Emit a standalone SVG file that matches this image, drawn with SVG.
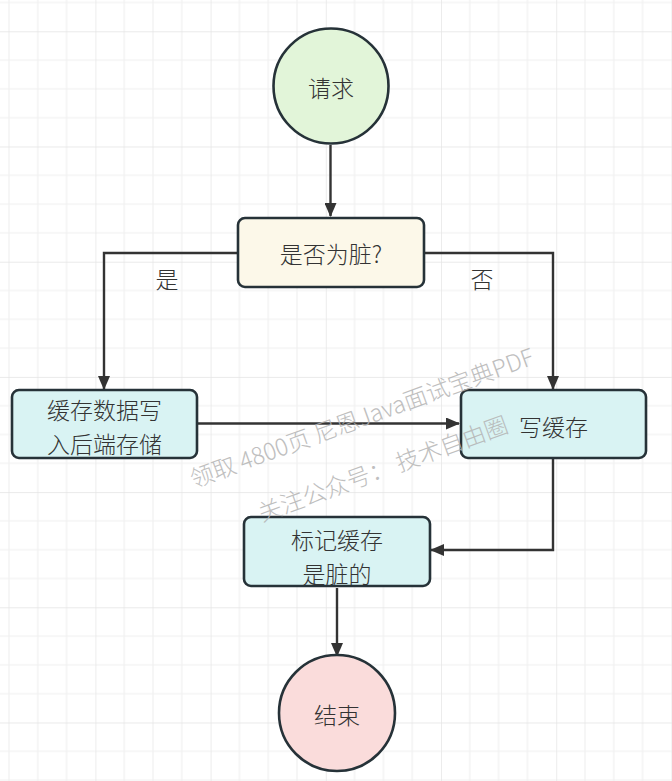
<svg xmlns="http://www.w3.org/2000/svg" width="672" height="781" viewBox="0 0 672 781">
<defs>
<pattern id="grid" x="-19.8" y="31.3" width="115.2" height="115.2" patternUnits="userSpaceOnUse">
<path d="M28.8 0V115.2M57.6 0V115.2M86.4 0V115.2M0 28.8H115.2M0 57.6H115.2M0 86.4H115.2" stroke="#f0f0f0" stroke-width="1.2" fill="none"/>
<path d="M0 0V115.2M0 0H115.2" stroke="#e4e4e4" stroke-width="1.4" fill="none"/>
</pattern>
<marker id="arr" viewBox="0 0 14 12" refX="13" refY="6" markerWidth="14" markerHeight="12" markerUnits="userSpaceOnUse" orient="auto">
<path d="M0 0L14 6L0 12Z" fill="#333"/>
</marker>
<style>
.shape{stroke:#263238;stroke-width:2.6}
.lbl{font-family:"Noto Sans CJK SC","Noto Sans",sans-serif;font-size:23px;font-weight:300;fill:#333;text-anchor:middle;dominant-baseline:central}
.edge{fill:none;stroke:#333;stroke-width:2.4}
.wm{font-family:"Noto Sans CJK SC","Noto Sans",sans-serif;font-size:23.5px;font-weight:300;fill:#b4b4b4;opacity:0.85}
</style>
</defs>
<rect width="672" height="781" fill="#ffffff"/>
<rect width="672" height="781" fill="url(#grid)"/>
<g id="connectors">
<path class="edge" d="M330.5 145V216" marker-end="url(#arr)"/>
<path class="edge" d="M238 253H104V389" marker-end="url(#arr)"/>
<path class="edge" d="M424 253H553V389" marker-end="url(#arr)"/>
<path class="edge" d="M197 423.5H459" marker-end="url(#arr)"/>
<path class="edge" d="M553 459V550H431" marker-end="url(#arr)"/>
<path class="edge" d="M337 588V656" marker-end="url(#arr)"/>
<text class="lbl" x="167" y="278">是</text>
<text class="lbl" x="482" y="278">否</text>
</g>
<g id="start">
<circle class="shape" cx="331" cy="86" r="57.5" fill="#e2f5d9"/>
<text class="lbl" x="331" y="87">请求</text>
</g>
<g id="decision">
<rect class="shape" x="238" y="218" width="186" height="69" rx="7" fill="#fcf8e9"/>
<text class="lbl" x="331" y="253">是否为脏?</text>
</g>
<g id="writeback">
<rect class="shape" x="12" y="390" width="185" height="68" rx="7" fill="#d9f3f3"/>
<text class="lbl"><tspan x="104.5" y="409">缓存数据写</tspan><tspan x="104.5" y="442.5">入后端存储</tspan></text>
</g>
<g id="writecache">
<rect class="shape" x="461" y="390" width="185" height="68" rx="7" fill="#d9f3f3"/>
<text class="lbl" x="553.5" y="426">写缓存</text>
</g>
<g id="markdirty">
<rect class="shape" x="244" y="517" width="186" height="69" rx="7" fill="#d9f3f3"/>
<text class="lbl"><tspan x="337" y="539">标记缓存</tspan><tspan x="337" y="572.5">是脏的</tspan></text>
</g>
<g id="end">
<circle class="shape" cx="337" cy="713" r="58" fill="#fadcdb"/>
<text class="lbl" x="337" y="714">结束</text>
</g>
<g id="watermark">
<text class="wm" transform="translate(194 488) rotate(-20)">领取 4800页 尼恩Java面试宝典PDF</text>
<text class="wm" transform="translate(262 522) rotate(-20)">关注公众号：  技术自由圈</text>
</g>
</svg>
